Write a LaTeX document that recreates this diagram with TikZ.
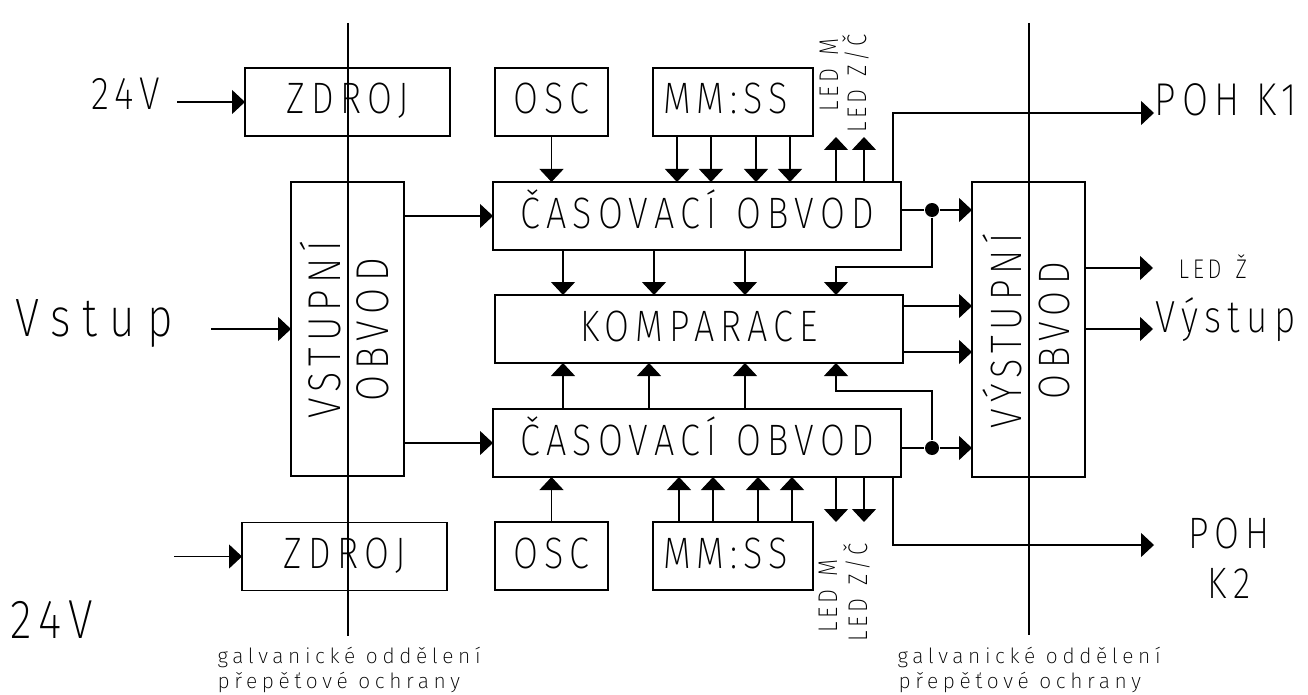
\documentclass[tikz,border=0pt]{standalone}
\usepackage{fontspec}
\usetikzlibrary{arrows.meta}
\newfontfamily\cad{Fira Sans}[UprightFont={* ExtraLight},FakeStretch=0.82,LetterSpace=14]
\newfontfamily\cadc{Fira Sans}[UprightFont={* ExtraLight},LetterSpace=22]
\newcommand\wsp[1]{\rule{#1}{0pt}}
\begin{document}
\begin{tikzpicture}[x=1pt,y=-1pt,line width=1.2pt,
  box/.style={draw,inner sep=0pt,outer sep=0pt,text height=30pt,text depth=6pt,font=\cad\fontsize{44}{48}\selectfont},
  arr/.style={-{Triangle[length=13pt,width=24pt]}},
  dot/.style={circle,fill,inner sep=0pt,minimum size=14pt},
  lbl/.style={inner sep=0pt,anchor=base west},
  ledtxt/.style={inner sep=0pt,anchor=base west,font=\cad\fontsize{27}{30}\selectfont},
  captxt/.style={inner sep=0pt,anchor=base west,font=\cadc\fontsize{21}{24}\selectfont}]
\useasboundingbox (0,0) rectangle (1308,695);
% boxes
\node[box,minimum width=205pt,minimum height=68pt] (zd1) at (347.5,102) {ZDROJ};
\node[box,minimum width=113pt,minimum height=68pt] (osc1) at (551.5,102) {OSC};
\node[box,minimum width=160pt,minimum height=68pt,text width=140pt,align=left] (mm1) at (733,102) {MM:SS};
\node[box,minimum width=408pt,minimum height=68pt] (cas1) at (697,216) {ČASOVACÍ\wsp{20pt}OBVOD};
\node[box,minimum width=408pt,minimum height=68pt] (kom) at (699,329) {KOMPARACE};
\node[box,minimum width=408pt,minimum height=68pt] (cas2) at (697,443) {ČASOVACÍ\wsp{20pt}OBVOD};
\node[box,minimum width=113pt,minimum height=68pt] (osc2) at (551.5,556) {OSC};
\node[box,minimum width=160pt,minimum height=68pt,text width=140pt,align=left] (mm2) at (733,556) {MM:SS};
\node[box,minimum width=205pt,minimum height=68pt] (zd2) at (344.5,556.5) {ZDROJ};
\node[box,minimum width=113pt,minimum height=294pt] (vin) at (347.5,329) {};
\node[box,minimum width=113pt,minimum height=295pt] (vout) at (1028.5,329.5) {};
\node[rotate=90,align=center,font=\cad\fontsize{46}{48}\selectfont] (vint) at (345,330) {VSTUPNÍ\\OBVOD};
\node[rotate=90,align=center,font=\cad\fontsize{44}{48}\selectfont] (voutt) at (1026,331) {VÝSTUPNÍ\\OBVOD};
% isolation lines
\coordinate (s1t) at (348,23); \coordinate (s1b) at (348,636);
\coordinate (s2t) at (1029,23); \coordinate (s2b) at (1029,635);
\draw (s1t) -- (s1b);
\draw (s2t) -- (s2b);
% inputs
\node[lbl,font=\cad\fontsize{46}{48}\selectfont] (t24a) at (91,110) {24V};
\coordinate (p24a) at (177,102);
\draw[arr] (p24a) -- (zd1.west);
\node[lbl,font=\cad\fontsize{55}{58}\selectfont] (t24b) at (10,638) {24V};
\coordinate (p24b) at (174,556.5);
\draw[arr] (p24b) -- (zd2.west);
\node[lbl,font=\cad\fontsize{54}{58}\selectfont\addfontfeatures{LetterSpace=22}] (vst) at (15,336) {Vstup};
\coordinate (pvs) at (211,329);
\draw[arr] (pvs) -- (vin.west |- pvs);
\draw[arr] (vin.east |- cas1.west) -- (cas1.west);
\draw[arr] (vin.east |- cas2.west) -- (cas2.west);
% top feeders
\draw[arr] (osc1.south) -- (osc1.south |- cas1.north);
\foreach \x [count=\i] in {677,711,756,790} {
  \coordinate (mt\i) at (\x,0);
  \draw[arr] (mm1.south -| mt\i) -- (cas1.north -| mt\i);
}
\draw[arr] (osc2.north) -- (osc2.north |- cas2.south);
\foreach \x [count=\i] in {679,713,758,792} {
  \coordinate (mb\i) at (\x,0);
  \draw[arr] (mm2.north -| mb\i) -- (cas2.south -| mb\i);
}
% LEDs top
\coordinate (ledm1) at (836,137); \coordinate (ledz1) at (864,137);
\draw[arr] (cas1.north -| ledm1) -- (ledm1);
\draw[arr] (cas1.north -| ledz1) -- (ledz1);
\node[ledtxt,rotate=90] (ledm1t) at (838,112) {LED\wsp{13pt}M};
\node[ledtxt,rotate=90] (ledz1t) at (866,133) {LED\wsp{13pt}Z/Č};
% LEDs bottom
\coordinate (ledm2) at (836,522); \coordinate (ledz2) at (864,522);
\draw[arr] (cas2.south -| ledm2) -- (ledm2);
\draw[arr] (cas2.south -| ledz2) -- (ledz2);
\node[ledtxt,rotate=90] (ledm2t) at (837,633) {LED\wsp{13pt}M};
\node[ledtxt,rotate=90] (ledz2t) at (867,642) {LED\wsp{13pt}Z/Č};
% POH
\coordinate (xk) at (893,0);
\coordinate (pk1) at (1154,113);
\draw[arr] (cas1.north -| xk) |- (pk1);
\node[lbl,font=\cad\fontsize{46}{48}\selectfont] (poh1) at (1154,116) {POH\wsp{16pt}K1};
\coordinate (pk2) at (1154,545);
\draw[arr] (cas2.south -| xk) |- (pk2);
\node[align=center,font=\cad\fontsize{44}{50}\selectfont] (poh2) at (1229,558) {POH\\K2};
% casovaci -> komparace
\foreach \x [count=\i] in {563,654,745} {
  \coordinate (ct\i) at (\x,0);
  \draw[arr] (cas1.south -| ct\i) -- (kom.north -| ct\i);
}
\foreach \x [count=\i] in {563,649,745} {
  \coordinate (cb\i) at (\x,0);
  \draw[arr] (cas2.north -| cb\i) -- (kom.south -| cb\i);
}
% outputs to vystupni + feedback
\node[dot] (d1) at (932,210) {};
\draw (cas1.east |- d1) -- (d1);
\draw[arr] (d1) -- (vout.west |- d1);
\coordinate (fb1) at (836,267);
\draw[arr] (d1) |- (fb1) -- (fb1 |- kom.north);
\node[dot] (d2) at (932,448) {};
\draw (cas2.east |- d2) -- (d2);
\draw[arr] (d2) -- (vout.west |- d2);
\coordinate (fb2) at (836,391);
\draw[arr] (d2) |- (fb2) -- (fb2 |- kom.south);
\coordinate (yk1) at (0,306); \coordinate (yk2) at (0,352);
\draw[arr] (kom.east |- yk1) -- (vout.west |- yk1);
\draw[arr] (kom.east |- yk2) -- (vout.west |- yk2);
% outputs right
\coordinate (pled) at (1153,268);
\draw[arr] (vout.east |- pled) -- (pled);
\node[ledtxt] (ledzt) at (1178,278) {LED\wsp{14pt}Ž};
\coordinate (pvy) at (1153,329);
\draw[arr] (vout.east |- pvy) -- (pvy);
\node[lbl,font=\cad\fontsize{45}{48}\selectfont] (vyst) at (1155,332) {Výstup};
% captions
\node[captxt] (c1a) at (217,663) {galvanické oddělení};
\node[captxt] (c1b) at (217,688) {přepěťové ochrany};
\node[captxt] (c2a) at (897,663) {galvanické oddělení};
\node[captxt] (c2b) at (898,688) {přepěťové ochrany};
\end{tikzpicture}
\end{document}
